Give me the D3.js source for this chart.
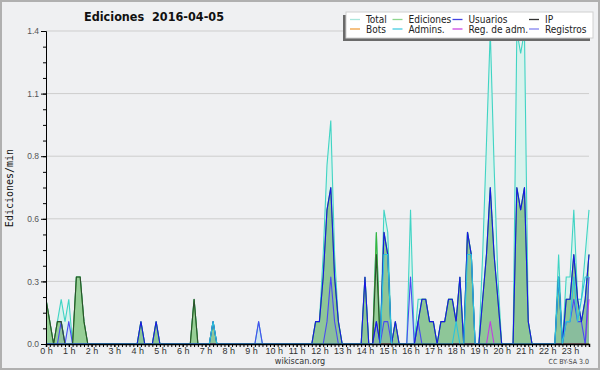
<!DOCTYPE html>
<html>
<head>
<meta charset="utf-8">
<script src="https://cdn.jsdelivr.net/npm/d3@7"></script>
<style>
  body { margin: 0; background: #fff; }
  svg { display: block; font-family: "DejaVu Sans Condensed", "DejaVu Sans", sans-serif; font-stretch: condensed; }
</style>
</head>
<body>
<div id="chart"></div>
<script>
// edits per minute, one value per 10 minutes; each row = 2 hours (00:00 .. 23:50)
const total = [
  0.2,0.1,0,0.1,0.2,0.1,0.2,0,0.3,0.3,0.1,0,
  0,0,0,0,0,0,0,0,0,0,0,0,
  0,0.1,0,0,0,0.1,0,0,0,0,0,0,
  0,0,0,0.2,0,0,0,0,0.1,0,0,0,
  0,0,0,0,0,0,0,0,0.1,0,0,0,
  0,0,0,0,0,0,0,0,0,0,0,0.1,
  0.1,0.4,0.8,1.0,0.4,0.1,0,0,0,0,0,0,
  0.3,0,0,0.5,0,0.6,0.5,0,0.1,0,0,0,
  0.6,0,0.2,0.2,0.2,0.1,0.1,0,0.1,0.1,0.2,0.2,
  0.1,0.3,0,0.5,0.4,0,0,0.4,0.9,1.4,0.8,0.3,
  0,0,0,0,1.4,1.3,1.4,0.1,0,0,0,0,
  0,0,0,0.4,0,0.3,0.3,0.6,0.2,0.2,0.4,0.6
];
const ediciones = [
  0.2,0.1,0,0.1,0.1,0,0,0,0.3,0.3,0.1,0,
  0,0,0,0,0,0,0,0,0,0,0,0,
  0,0.1,0,0,0,0.1,0,0,0,0,0,0,
  0,0,0,0.2,0,0,0,0,0.1,0,0,0,
  0,0,0,0,0,0,0,0,0,0,0,0,
  0,0,0,0,0,0,0,0,0,0,0,0.1,
  0.1,0.3,0.6,0.7,0.3,0.1,0,0,0,0,0,0,
  0.3,0,0,0.5,0,0.5,0.4,0,0.1,0,0,0,
  0,0,0.1,0.2,0.2,0.1,0.1,0,0.1,0.1,0.2,0.2,
  0.1,0.3,0,0.5,0.4,0,0,0.2,0.4,0.7,0.4,0.2,
  0,0,0,0,0.7,0.6,0.7,0.1,0,0,0,0,
  0,0,0,0.3,0,0.2,0.2,0.4,0.2,0.1,0.2,0.4
];
const usuarios = [
  0,0,0,0,0,0,0,0,0,0,0,0,
  0,0,0,0,0,0,0,0,0,0,0,0,
  0,0.1,0,0,0,0.1,0,0,0,0,0,0,
  0,0,0,0,0,0,0,0,0.1,0,0,0,
  0,0,0,0,0,0,0,0,0,0,0,0,
  0,0,0,0,0,0,0,0,0,0,0,0.1,
  0.1,0.3,0.6,0.7,0.3,0.1,0,0,0,0,0,0,
  0.3,0,0,0.1,0,0.5,0.4,0,0.1,0,0,0,
  0,0,0.1,0.2,0.2,0.1,0.1,0,0.1,0.1,0.2,0.2,
  0.1,0.3,0,0.5,0.4,0,0,0.2,0.4,0.7,0.4,0.2,
  0,0,0,0,0.7,0.6,0.7,0.1,0,0,0,0,
  0,0,0,0.3,0,0.2,0.2,0.4,0.2,0.1,0.2,0.4
];
const ip = [
  0.2,0.1,0,0.1,0.1,0,0,0,0.3,0.3,0.1,0,
  0,0,0,0,0,0,0,0,0,0,0,0,
  0,0,0,0,0,0,0,0,0,0,0,0,
  0,0,0,0.2,0,0,0,0,0,0,0,0,
  0,0,0,0,0,0,0,0,0,0,0,0,
  0,0,0,0,0,0,0,0,0,0,0,0,
  0,0,0,0,0,0,0,0,0,0,0,0,
  0,0,0,0.4,0,0,0,0,0,0,0,0,
  0,0,0,0,0,0,0,0,0,0,0,0,
  0,0,0,0,0,0,0,0,0,0,0,0,
  0,0,0,0,0,0,0,0,0,0,0,0,
  0,0,0,0,0,0,0,0,0,0,0,0
];
const bots = [
  0,0,0,0,0,0,0,0,0,0,0,0,
  0,0,0,0,0,0,0,0,0,0,0,0,
  0,0,0,0,0,0,0,0,0,0,0,0,
  0,0,0,0,0,0,0,0,0,0,0,0,
  0,0,0,0,0,0,0,0,0,0,0,0,
  0,0,0,0,0,0,0,0,0,0,0,0,
  0,0,0,0,0,0,0,0,0,0,0,0,
  0,0,0,0,0,0,0,0,0,0,0,0,
  0,0,0,0,0,0,0,0,0,0,0,0,
  0,0,0,0,0,0,0,0,0,0,0,0,
  0,0,0,0,0,0,0,0,0,0,0,0,
  0,0,0,0,0,0,0,0,0,0,0,0
];
const admins = [
  0,0,0,0,0,0,0,0,0,0,0,0,
  0,0,0,0,0,0,0,0,0,0,0,0,
  0,0,0,0,0,0,0,0,0,0,0,0,
  0,0,0,0,0,0,0,0,0.1,0,0,0,
  0,0,0,0,0,0,0,0,0,0,0,0,
  0,0,0,0,0,0,0,0,0,0,0,0,
  0,0,0,0,0,0,0,0,0,0,0,0,
  0,0,0,0,0,0.4,0.4,0,0,0,0,0,
  0,0,0,0,0,0,0,0,0,0,0,0,
  0.1,0,0,0.4,0.4,0,0,0,0,0,0,0,
  0,0,0,0,0,0,0,0,0,0,0,0,
  0,0,0,0.3,0,0.1,0.1,0.3,0.1,0.2,0.3,0.3
];
const regAdm = [
  0,0,0,0,0,0,0,0,0,0,0,0,
  0,0,0,0,0,0,0,0,0,0,0,0,
  0,0,0,0,0,0,0,0,0,0,0,0,
  0,0,0,0,0,0,0,0,0,0,0,0,
  0,0,0,0,0,0,0,0,0,0,0,0,
  0,0,0,0,0,0,0,0,0,0,0,0,
  0,0,0,0,0,0,0,0,0,0,0,0,
  0,0,0,0,0,0,0,0,0,0,0,0,
  0,0,0,0,0,0,0,0,0,0,0,0,
  0,0,0,0,0,0,0,0,0,0.1,0,0,
  0,0,0,0,0,0,0,0,0,0,0,0,
  0,0,0,0,0,0,0,0,0,0,0,0.2
];
const registros = [
  0,0,0,0,0.1,0,0.1,0,0,0,0,0,
  0,0,0,0,0,0,0,0,0,0,0,0,
  0,0,0,0,0,0,0,0,0,0,0,0,
  0,0,0,0,0,0,0,0,0,0,0,0,
  0,0,0,0,0,0,0,0,0.1,0,0,0,
  0,0,0,0,0,0,0,0,0,0,0,0,
  0,0,0.1,0.3,0.1,0,0,0,0,0,0,0,
  0,0,0,0.1,0,0.1,0.1,0,0,0,0,0,
  0.3,0,0.1,0,0,0,0,0,0,0,0,0,
  0,0,0,0,0,0,0,0,0,0,0,0,
  0,0,0,0,0,0,0,0,0,0,0,0,
  0,0,0,0,0,0.1,0.1,0.2,0.1,0.1,0,0.3
];
const minutes = d3.range(0, 1440, 10);
const hourTicks = d3.range(0, 1440, 60);
const yTicks = [0, 0.28, 0.56, 0.84, 1.12, 1.4];

const legendItems = [
  {name: "Total", color: "#a9e6dc"},
  {name: "Ediciones", color: "#8ed68e"},
  {name: "Usuarios", color: "#4444e2"},
  {name: "IP", color: "#333333"},
  {name: "Bots", color: "#f0a040"},
  {name: "Admins.", color: "#44cce2"},
  {name: "Reg. de adm.", color: "#cc44e2"},
  {name: "Registros", color: "#8282f0"}
];

const W = 600, H = 370;
const margin = {left: 46, right: 11, top: 31, bottom: 26};

const svg = d3.select("#chart").append("svg").attr("width", W).attr("height", H);

svg.append("rect").attr("x", 1).attr("y", 1).attr("width", W - 2).attr("height", H - 2)
  .attr("fill", "#eff0f2").attr("stroke", "#b0b0b0").attr("stroke-width", 2);

const x = d3.scaleLinear().domain([0, 1430]).range([margin.left, W - margin.right]);
const y = d3.scaleLinear().domain([0, 1.4]).range([H - margin.bottom, margin.top]);

// grid
svg.append("g").selectAll("line").data(yTicks.slice(1)).join("line")
  .attr("x1", margin.left).attr("x2", W - margin.right)
  .attr("y1", d => y(d)).attr("y2", d => y(d))
  .attr("stroke", "#cdcdcd").attr("stroke-width", 1);

svg.append("defs").append("clipPath").attr("id", "plot")
  .append("rect").attr("x", margin.left).attr("y", margin.top - 1)
  .attr("width", W - margin.right - margin.left + 1).attr("height", H - margin.bottom - margin.top + 1);

const plot = svg.append("g").attr("clip-path", "url(#plot)");

function area(vals) {
  return d3.area().x((d, i) => x(minutes[i])).y0(y(0)).y1(d => y(d))(vals);
}
function line(vals) {
  return d3.line().x((d, i) => x(minutes[i])).y(d => y(d))(vals);
}

plot.append("path").attr("d", area(total)).attr("fill", "#d9f2ed");
plot.append("path").attr("d", line(total)).attr("fill", "none").attr("stroke", "#40d4c4").attr("stroke-width", 1.1);
plot.append("path").attr("d", area(ediciones)).attr("fill", "#96cf96");
plot.append("path").attr("d", line(ediciones)).attr("fill", "none").attr("stroke", "#3cb43c").attr("stroke-width", 1.1);
plot.append("path").attr("d", area(registros)).attr("fill", "rgba(70,70,240,0.06)");
plot.append("path").attr("d", area(usuarios)).attr("fill", "rgba(0,40,200,0.05)");

const lines = [
  {vals: bots, color: "#f0a040"},
  {vals: regAdm, color: "#c040e0"},
  {vals: registros, color: "#4a4af2"},
  {vals: ip, color: "#2d4f2d"},
  {vals: usuarios, color: "#1818e4"},
  {vals: admins, color: "#2cc4dc"}
];
lines.forEach(s => {
  plot.append("path").attr("d", line(s.vals)).attr("fill", "none")
    .attr("stroke", s.color).attr("stroke-width", 1.1).attr("stroke-linejoin", "round");
});

// y axis
const yAxis = svg.append("g").attr("transform", `translate(${margin.left},0)`)
  .call(d3.axisLeft(y).tickValues(yTicks).tickFormat(d3.format(".1f")).tickSize(5).tickPadding(2));
yAxis.select(".domain").attr("stroke", "#000");
yAxis.selectAll(".tick text").attr("fill", "#555").style("font-size", "8.5px");
svg.append("g").attr("transform", `translate(${margin.left},0)`)
  .call(d3.axisLeft(y).tickValues(d3.range(0, 1.4, 0.07)).tickFormat("").tickSize(3))
  .call(g => g.select(".domain").remove());

// x axis
const xAxis = svg.append("g").attr("transform", `translate(0,${y(0)})`)
  .call(d3.axisBottom(x).tickValues(hourTicks).tickFormat(d => (d / 60) + " h").tickSize(3).tickPadding(1));
xAxis.select(".domain").attr("stroke", "#000").attr("stroke-width", 1.5);
xAxis.selectAll(".tick text").attr("fill", "#333").style("font-size", "9px");
svg.append("g").attr("transform", `translate(0,${y(0)})`)
  .call(d3.axisBottom(x).tickValues(minutes).tickFormat("").tickSize(3))
  .call(g => g.select(".domain").remove());

// titles
svg.append("text").attr("x", 154).attr("y", 21).attr("text-anchor", "middle")
  .attr("font-weight", "bold").style("font-size", "12.5px").attr("fill", "#111")
  .attr("xml:space", "preserve").text("Ediciones  2016-04-05");

svg.append("text").attr("transform", `translate(13,${188}) rotate(-90)`)
  .attr("text-anchor", "middle").style("font-family", "DejaVu Sans Mono").style("font-stretch", "normal")
  .style("font-size", "10px").attr("fill", "#111").text("Ediciones/min");

svg.append("text").attr("x", 300).attr("y", 364).attr("text-anchor", "middle")
  .style("font-size", "9px").attr("fill", "#333").text("wikiscan.org");
svg.append("text").attr("x", 589).attr("y", 364).attr("text-anchor", "end")
  .style("font-size", "7px").attr("fill", "#444").text("CC BY-SA 3.0");

// legend
const lg = svg.append("g");
lg.append("rect").attr("x", 343).attr("y", 15).attr("width", 247).attr("height", 26).attr("fill", "#6a6a6a");
lg.append("rect").attr("x", 346).attr("y", 12).attr("width", 247).attr("height", 26)
  .attr("fill", "#fff").attr("stroke", "#d0d0d0");
const colX = [350, 392.5, 452.5, 529];
legendItems.forEach((d, i) => {
  const cx = colX[i % 4], cy = i < 4 ? 19.5 : 29;
  lg.append("line").attr("x1", cx).attr("x2", cx + 10).attr("y1", cy).attr("y2", cy)
    .attr("stroke", d.color).attr("stroke-width", 1.3);
  lg.append("text").attr("x", cx + 16).attr("y", cy + 3.5).style("font-size", "10px")
    .attr("fill", "#222").text(d.name);
});
</script>
</body>
</html>
